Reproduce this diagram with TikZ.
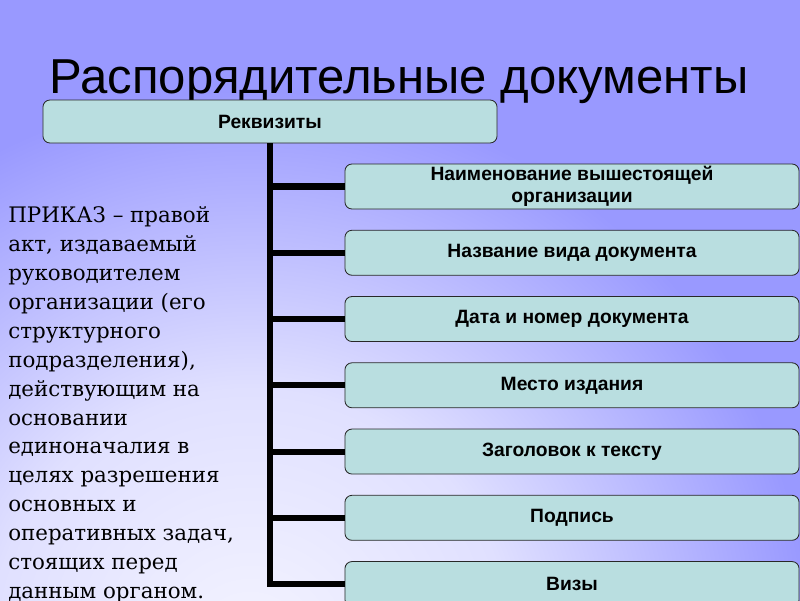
\documentclass[tikz,border=0pt]{standalone}
\usepackage{fontspec}
\setmainfont{Liberation Sans}
\newfontfamily\serifru{DejaVu Serif}
\usepackage{xcolor}
\usepackage{tikz}
\usetikzlibrary{positioning}
\definecolor{bgpurple}{RGB}{153,153,255}
\definecolor{bglight}{RGB}{224,224,255}
\definecolor{bgwhite}{RGB}{244,244,255}
\definecolor{boxfill}{RGB}{185,222,224}
\definecolor{boxline}{RGB}{40,40,40}
\pgfdeclareradialshading{slideshade}{\pgfpoint{0bp}{0bp}}{color(0bp)=(bgwhite); color(9.3bp)=(bglight); color(20bp)=(bgpurple); color(50bp)=(bgpurple)}
\tikzset{
  block/.style={rectangle, draw=boxline, fill=boxfill,
    minimum width=11.35cm, minimum height=1.125cm, align=center,
    font=\bfseries\fontsize{13.7}{15.6}\selectfont, rounded corners=5pt,
    line width=0.6pt, inner sep=0pt},
  treeline/.style={line width=4.3pt, color=black}
}

\begin{document}
\begin{tikzpicture}[x=0.025cm, y=-0.025cm, node distance=0.51cm]
  \useasboundingbox (0,0) rectangle (800,600);
  % slide background
  \begin{scope}
    \clip (0,0) rectangle (800,600);
    \fill[bgpurple] (0,0) rectangle (800,600);
    \shade[shading=slideshade] (250,650) circle[radius=700];
  \end{scope}

  \node[anchor=base, inner sep=0pt, font=\fontsize{34.9}{40}\selectfont] (title) at (399,93) {Распорядительные документы};

  \node[block, minimum height=1.075cm] (rekv) at (270,121.5) {Реквизиты};
  \node[block] (org) at (572,186.5) {Наименование вышестоящей\\организации};
  \node[block, below=of org] (vid) {Название вида документа};
  \node[block, below=of vid] (data) {Дата и номер документа};
  \node[block, below=of data] (mesto) {Место издания};
  \node[block, below=of mesto] (zag) {Заголовок к тексту};
  \node[block, below=of zag] (podp) {Подпись};
  \node[block, below=of podp] (vizy) {Визы};

  \draw[treeline] (rekv.south) |- (org.west);
  \draw[treeline] (rekv.south) |- (vid.west);
  \draw[treeline] (rekv.south) |- (data.west);
  \draw[treeline] (rekv.south) |- (mesto.west);
  \draw[treeline] (rekv.south) |- (zag.west);
  \draw[treeline] (rekv.south) |- (podp.west);
  \draw[treeline] (rekv.south) |- (vizy.west);

  \node[anchor=north west, align=left, inner sep=0pt,
    font=\serifru\fontsize{15.2}{20.6}\selectfont] (prikaz) at (8,206)
    {ПРИКАЗ – правой\\
     акт, издаваемый\\
     руководителем\\
     организации (его\\
     структурного\\
     подразделения),\\
     действующим на\\
     основании\\
     единоначалия в\\
     целях разрешения\\
     основных и\\
     оперативных задач,\\
     стоящих перед\\
     данным органом.};
\end{tikzpicture}
\end{document}
